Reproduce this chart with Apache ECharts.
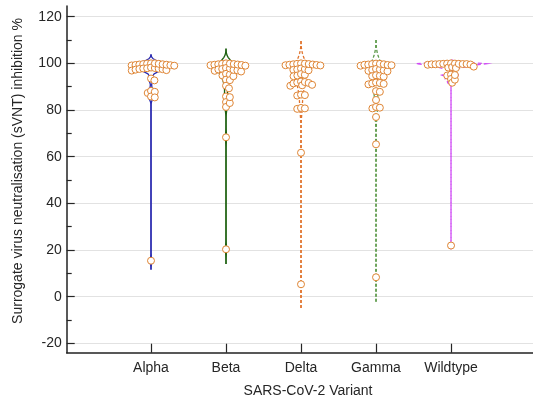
<!DOCTYPE html>
<html>
<head>
<meta charset="utf-8">
<script src="https://cdn.jsdelivr.net/npm/echarts@6/dist/echarts.min.js"></script>
<style>
  html, body { margin: 0; padding: 0; background: #fff; }
  #chart { width: 533px; height: 399px; }
</style>
</head>
<body>
<div id="chart"></div>
<script>
// groups on the x axis
const categories = ['Alpha', 'Beta', 'Delta', 'Gamma', 'Wildtype'];

// sVNT inhibition % per variant
const alpha = [100, 100, 99.9, 99.8, 99.7, 99.6, 99.5, 99.4, 99.3, 99.2, 99.1, 99.0,
  98.2, 98.0, 97.9, 97.8, 97.7, 97.6, 97.5, 97.3, 97.1, 96.9,
  93.5, 92.7, 88.2, 87.8, 87.3, 85.8, 85.4, 15.4];
const beta = [100, 99.9, 99.8, 99.7, 99.6, 99.5, 99.4, 99.3, 99.2, 99.0,
  98.0, 97.8, 97.6, 97.4, 97.2, 97.0, 96.8, 96.5,
  95.5, 95.2, 94.8, 94.5, 93.0, 92.8, 90.4, 89.3, 85.8, 85.5, 83.4, 83.0, 81.3, 68.3, 20.3];
const delta = [100, 99.9, 99.8, 99.7, 99.6, 99.5, 99.4, 99.3, 99.2, 99.1,
  97.8, 97.6, 97.4, 97.2, 97.0, 95.4, 95.1, 94.8, 94.5,
  92.2, 92.0, 91.8, 91.6, 91.4, 90.8, 90.6, 90.4, 86.6, 86.4, 86.2,
  80.9, 80.7, 80.5, 61.7, 5.3];
const gamma = [99.9, 99.8, 99.7, 99.6, 99.5, 99.4, 99.3, 99.2, 99.0,
  97.6, 97.4, 97.2, 97.0, 96.8, 96.6, 94.9, 94.7, 94.5, 94.3,
  91.8, 91.6, 91.4, 91.2, 91.0, 88.1, 87.8, 84.3, 81.3, 81.0, 80.7, 77.0, 65.3, 8.3];
const wildtype = [100, 99.9, 99.9, 99.8, 99.8, 99.7, 99.7, 99.7, 99.6, 99.6, 99.5, 99.4,
  98.6, 98.4, 98.2, 98.0, 95.2, 95.0, 94.8, 93.3, 93.0, 91.7, 21.9];

const groups = [alpha, beta, delta, gamma, wildtype];
const lineColors = ['#2a2ab0', '#1f6212', '#e0722a', '#5d9a4a', '#d04cf5'];
const lineDash = [null, null, [3, 2], [3, 2], [4, 3]];
const dotColor = '#de8433';

// kernel density, matlab ksdensity style bandwidth
function median(a) {
  const s = a.slice().sort((p, q) => p - q);
  const m = Math.floor(s.length / 2);
  return s.length % 2 ? s[m] : (s[m - 1] + s[m]) / 2;
}
function kde(vals) {
  const n = vals.length;
  const med = median(vals);
  const sig = median(vals.map(v => Math.abs(v - med))) / 0.6745;
  const bw = sig * Math.pow(4 / (3 * n), 0.2);
  const lo = Math.min(...vals) - 3 * bw;
  const hi = Math.max(...vals) + 3 * bw;
  const pts = [];
  for (let i = 0; i < 100; i++) {
    const y = lo + (hi - lo) * i / 99;
    let d = 0;
    vals.forEach(v => { const z = (y - v) / bw; d += Math.exp(-0.5 * z * z); });
    pts.push([y, d / (n * bw * Math.sqrt(2 * Math.PI))]);
  }
  return pts;
}
const densities = groups.map(kde);
const maxDens = Math.max(...densities.map(g => Math.max(...g.map(p => p[1]))));
const violinHalf = 0.47;

// beeswarm offsets in pixels
function swarm(ys, D) {
  const order = ys.map((y, i) => i).sort((a, b) => ys[a] - ys[b]);
  const placed = [];
  const xs = new Array(ys.length);
  order.forEach(i => {
    const y = ys[i];
    const iv = [];
    placed.forEach(p => {
      const dy = Math.abs(p.y - y);
      if (dy < D) {
        const dx = Math.sqrt(D * D - dy * dy);
        iv.push([p.x - dx, p.x + dx]);
      }
    });
    const cands = [0];
    iv.forEach(r => { cands.push(r[0], r[1]); });
    cands.sort((a, b) => Math.abs(a) - Math.abs(b) || b - a);
    let x = 0;
    for (const c of cands) {
      if (!iv.some(r => c > r[0] + 1e-6 && c < r[1] - 1e-6)) { x = c; break; }
    }
    xs[i] = x;
    placed.push({ x, y });
  });
  return xs;
}

function renderGroup(params, api) {
  const gi = api.value(0);
  const cx = gi + 1;
  const vals = groups[gi];
  const dens = densities[gi];
  const left = dens.map(p => api.coord([cx - p[1] / maxDens * violinHalf, p[0]]));
  const right = dens.map(p => api.coord([cx + p[1] / maxDens * violinHalf, p[0]]));
  const lineStyle = {
    stroke: lineColors[gi], lineWidth: 1.3, fill: null,
    lineDash: lineDash[gi]
  };
  const children = [
    { type: 'polyline', shape: { points: left }, style: lineStyle },
    { type: 'polyline', shape: { points: right },
      style: Object.assign({}, lineStyle, { lineDashOffset: gi === 4 ? 3.5 : 0 }) }
  ];
  const center = api.coord([cx, 0])[0];
  const ys = vals.map(v => api.coord([cx, v])[1]);
  const xs = swarm(ys, 3.9);
  const idx = ys.map((y, i) => i).sort((a, b) => xs[a] - xs[b]);
  idx.forEach(i => {
    children.push({
      type: 'circle',
      shape: { cx: center + xs[i], cy: ys[i], r: 3.5 },
      style: { fill: '#fff', stroke: dotColor, lineWidth: 1 }
    });
  });
  return { type: 'group', children };
}

const chart = echarts.init(document.getElementById('chart'));
const textColor = '#262626';
const font = '"Liberation Sans", Arial, sans-serif';

const option = {
  animation: false,
  grid: [
    { left: 66.7, right: 0, top: 16.7, bottom: 55.7, outerBoundsMode: 'none' },
    { left: 66.7, right: 0, top: 6, bottom: 46.3, outerBoundsMode: 'none' }
  ],
  xAxis: [
    {
      gridIndex: 0, type: 'value', min: -0.124, max: 6.093,
      position: 'bottom', offset: 9.4,
      axisLine: { show: false, onZero: false },
      splitLine: { show: false },
      axisTick: { inside: true, length: 9, customValues: [1, 2, 3, 4, 5],
        lineStyle: { color: textColor, width: 1.2 } },
      axisLabel: { customValues: [1, 2, 3, 4, 5], margin: 8,
        formatter: v => categories[Math.round(v) - 1] || '',
        color: textColor, fontSize: 14, fontFamily: font }
    },
    {
      gridIndex: 1, type: 'value', min: 0, max: 1,
      axisLine: { show: true, onZero: false, lineStyle: { color: '#222', width: 1.5 } },
      axisTick: { show: false }, axisLabel: { show: false }, splitLine: { show: false }
    }
  ],
  yAxis: [
    {
      gridIndex: 0, type: 'value', min: -20, max: 120, interval: 20,
      position: 'left',
      axisLine: { show: false, onZero: false },
      axisTick: { inside: true, length: 8, lineStyle: { color: textColor, width: 1.2 } },
      minorTick: { show: true, splitNumber: 2, length: 5, lineStyle: { color: textColor, width: 1.2 } },
      splitLine: { lineStyle: { color: '#e2e2e2', width: 1 } },
      axisLabel: { margin: 5, color: textColor, fontSize: 14, fontFamily: font }
    },
    {
      gridIndex: 1, type: 'value', min: 0, max: 1,
      axisLine: { show: true, onZero: false, lineStyle: { color: '#222', width: 1.5 } },
      axisTick: { show: false }, axisLabel: { show: false }, splitLine: { show: false }
    }
  ],
  graphic: [
    { type: 'text', x: 18, y: 171, rotation: Math.PI / 2,
      style: { text: 'Surrogate virus neutralisation (sVNT) inhibition %', fill: textColor,
        font: '14px ' + font, textAlign: 'center', textVerticalAlign: 'middle' } },
    { type: 'text', x: 308, y: 391,
      style: { text: 'SARS-CoV-2 Variant', fill: textColor,
        font: '14px ' + font, textAlign: 'center', textVerticalAlign: 'middle' } }
  ],
  series: [{
    type: 'custom',
    xAxisIndex: 0, yAxisIndex: 0,
    clip: false,
    renderItem: renderGroup,
    data: categories.map((c, i) => [i])
  }]
};
chart.setOption(option);
</script>
</body>
</html>
